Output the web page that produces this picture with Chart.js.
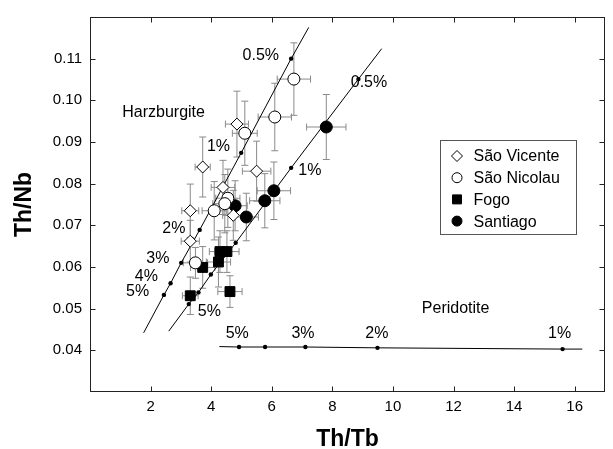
<!DOCTYPE html>
<html><head><meta charset="utf-8">
<script src="https://cdn.jsdelivr.net/npm/chart.js@4/dist/chart.umd.min.js"></script>
<style>html,body{margin:0;padding:0;background:#fff;}</style>
</head><body>
<canvas id="c" width="613" height="449"></canvas>
<script>
// ---- data ----
const xTicks = [2, 4, 6, 8, 10, 12, 14, 16];
const yTicks = [0.04, 0.05, 0.06, 0.07, 0.08, 0.09, 0.10, 0.11];

// São Vicente (open diamonds)
const svX    = [4.85, 3.72, 5.50, 4.39, 3.31, 4.73, 3.31];
const svY    = [0.0943, 0.0840, 0.0830, 0.0791, 0.0735, 0.0724, 0.0662];
const svXErr = [0.38, 0.25, 0.47, 0.39, 0.28, 0.35, 0.30];
const svYErr = [0.0079, 0.0072, 0.0072, 0.0065, 0.0064, 0.0060, 0.0050];

// São Nicolau (open circles)
const snX    = [6.73, 6.10, 5.11, 4.55, 4.45, 4.10, 3.48];
const snY    = [0.1051, 0.0960, 0.0921, 0.0765, 0.0752, 0.0735, 0.0610];
const snXErr = [0.55, 0.55, 0.41, 0.40, 0.40, 0.40, 0.40];
const snYErr = [0.0087, 0.0081, 0.0077, 0.0070, 0.0070, 0.0070, 0.0037];

// Fogo (filled squares)
const fgX    = [4.29, 4.52, 4.24, 3.72, 3.31, 4.62];
const fgY    = [0.0637, 0.0637, 0.0612, 0.0599, 0.0531, 0.0541];
const fgXErr = [0.35, 0.40, 0.40, 0.40, 0.26, 0.40];
const fgYErr = [0.0050, 0.0050, 0.0060, 0.0050, 0.0045, 0.0038];

// Santiago (filled circles)
const stX    = [7.80, 6.07, 5.77, 4.79, 5.16];
const stY    = [0.0936, 0.0783, 0.0759, 0.0747, 0.0720];
const stXErr = [0.65, 0.55, 0.50, 0.40, 0.40];
const stYErr = [0.0078, 0.0069, 0.0065, 0.0060, 0.0057];

// melting model curves (end, 5%,4%,3%,2%,1%,0.5%, end)
const harzX = [1.77, 2.44, 2.66, 3.01, 3.62, 4.99, 6.64, 7.22];
const harzY = [0.0442, 0.0533, 0.0561, 0.0610, 0.0689, 0.0874, 0.1100, 0.1175];
const peridX = [2.60, 3.26, 3.58, 3.99, 4.81, 6.64, 8.86, 9.63];
const peridY = [0.0446, 0.0511, 0.0539, 0.0582, 0.0658, 0.0838, 0.1051, 0.1124];
// Peridotite (horizontal) curve (end, 5%,4%,3%,2%,1%, end)
const flatX = [4.27, 4.92, 5.78, 7.11, 9.49, 15.6, 16.25];
const flatY = [0.0409, 0.0408, 0.0408, 0.0408, 0.0406, 0.0403, 0.0403];

// text labels
const noteText = ['0.5%', '1%', '2%', '3%', '4%', '5%', '0.5%', '1%', '5%', '5%', '3%', '2%', '1%', 'Harzburgite', 'Peridotite'];
const noteX = [5.64, 4.24, 2.77, 2.24, 1.86, 1.57, 9.21, 7.26, 3.94, 4.86, 7.03, 9.47, 15.5, 2.43, 12.07];
const noteY = [0.1108, 0.0888, 0.0691, 0.0620, 0.0576, 0.0540, 0.1043, 0.0831, 0.0494, 0.0441, 0.0441, 0.0441, 0.0441, 0.0970, 0.0500];

const seriesNames = ['São Vicente', 'São Nicolau', 'Fogo', 'Santiago'];

// ---- chart ----
const FONT = '"Liberation Sans", Arial, Helvetica, sans-serif';
const pts = (xs, ys) => xs.map((x, i) => ({x, y: ys[i]}));
const errSets = [
  [svX, svY, svXErr, svYErr], [snX, snY, snXErr, snYErr],
  [fgX, fgY, fgXErr, fgYErr], [stX, stY, stXErr, stYErr]
];

function markerDs(label, xs, ys, style, radius, fill) {
  return {label, data: pts(xs, ys), showLine: false, pointStyle: style,
    pointRadius: radius, pointHoverRadius: radius, pointBackgroundColor: fill,
    pointBorderColor: '#000', pointBorderWidth: 1, order: 0};
}
function curveDs(xs, ys) {
  const last = xs.length - 1;
  return {label: '', data: pts(xs, ys), showLine: true, borderColor: '#000', borderWidth: 1,
    pointRadius: c => (c.dataIndex === 0 || c.dataIndex === last) ? 0 : 2.2,
    pointHoverRadius: 0, pointBackgroundColor: '#000', pointBorderWidth: 0, order: 10};
}

const errorBars = {
  id: 'errorBars',
  beforeDatasetsDraw(chart) {
    const {ctx, scales: {x, y}} = chart;
    ctx.save();
    ctx.strokeStyle = '#8a8a8a';
    ctx.lineWidth = 1;
    const cap = 3.5;
    errSets.forEach(([xs, ys, xe, ye]) => {
      xs.forEach((xv, i) => {
        const px = x.getPixelForValue(xv), py = y.getPixelForValue(ys[i]);
        const x0 = x.getPixelForValue(xv - xe[i]), x1 = x.getPixelForValue(xv + xe[i]);
        const y0 = y.getPixelForValue(ys[i] - ye[i]), y1 = y.getPixelForValue(ys[i] + ye[i]);
        ctx.beginPath();
        ctx.moveTo(x0, py); ctx.lineTo(x1, py);
        ctx.moveTo(x0, py - cap); ctx.lineTo(x0, py + cap);
        ctx.moveTo(x1, py - cap); ctx.lineTo(x1, py + cap);
        ctx.moveTo(px, y0); ctx.lineTo(px, y1);
        ctx.moveTo(px - cap, y0); ctx.lineTo(px + cap, y0);
        ctx.moveTo(px - cap, y1); ctx.lineTo(px + cap, y1);
        ctx.stroke();
      });
    });
    ctx.restore();
  }
};

function drawMarker(ctx, style, cx, cy, r, fill) {
  ctx.beginPath();
  if (style === 'circle') ctx.arc(cx, cy, r, 0, Math.PI * 2);
  else if (style === 'rectRot') { ctx.moveTo(cx, cy - r); ctx.lineTo(cx + r, cy); ctx.lineTo(cx, cy + r); ctx.lineTo(cx - r, cy); ctx.closePath(); }
  else { ctx.rect(cx - r, cy - r, 2 * r, 2 * r); }
  ctx.fillStyle = fill; ctx.fill();
  ctx.strokeStyle = '#000'; ctx.lineWidth = 1; ctx.stroke();
}

const decor = {
  id: 'decor',
  afterDatasetsDraw(chart) {
    const {ctx, chartArea: a, scales: {x, y}} = chart;
    ctx.save();
    // frame
    ctx.strokeStyle = '#222'; ctx.lineWidth = 1;
    const L = Math.round(a.left) + 0.5, R = Math.round(a.right) - 0.5;
    const T = Math.round(a.top) + 0.5, B = Math.round(a.bottom) - 0.5;
    ctx.strokeRect(L, T, R - L, B - T);
    const tl = 5;
    ctx.beginPath();
    xTicks.forEach(v => {
      const p = Math.round(x.getPixelForValue(v)) + 0.5;
      ctx.moveTo(p, B); ctx.lineTo(p, B - tl);
      ctx.moveTo(p, T); ctx.lineTo(p, T + tl);
    });
    yTicks.forEach(v => {
      const p = Math.round(y.getPixelForValue(v)) + 0.5;
      ctx.moveTo(L, p); ctx.lineTo(L + tl, p);
      ctx.moveTo(R, p); ctx.lineTo(R - tl, p);
    });
    ctx.stroke();
    // labels
    ctx.fillStyle = '#000';
    ctx.font = '16px ' + FONT;
    ctx.textAlign = 'center'; ctx.textBaseline = 'middle';
    noteText.forEach((t, i) => ctx.fillText(t, x.getPixelForValue(noteX[i]), y.getPixelForValue(noteY[i])));
    // legend
    const bx = 440.5, by = 140.5, bw = 136, bh = 94;
    ctx.strokeStyle = '#555';
    ctx.strokeRect(bx, by, bw, bh);
    const styles = [['rectRot', 5.5, '#fff'], ['circle', 5, '#fff'], ['rect', 4.5, '#000'], ['circle', 5, '#000']];
    ctx.textAlign = 'left';
    seriesNames.forEach((n, i) => {
      const cy = by + 15.5 + i * 21.7;
      drawMarker(ctx, styles[i][0], bx + 16.5, cy, styles[i][1], styles[i][2]);
      ctx.fillStyle = '#000';
      ctx.fillText(n, bx + 33, cy + 1);
    });
    ctx.restore();
  }
};

new Chart(document.getElementById('c'), {
  type: 'scatter',
  data: {
    datasets: [
      markerDs(seriesNames[0], svX, svY, 'rectRot', 6, '#fff'),
      markerDs(seriesNames[1], snX, snY, 'circle', 6, '#fff'),
      markerDs(seriesNames[2], fgX, fgY, 'rect', 7, '#000'),
      markerDs(seriesNames[3], stX, stY, 'circle', 6, '#000'),
      curveDs(harzX, harzY),
      curveDs(peridX, peridY),
      curveDs(flatX, flatY)
    ]
  },
  options: {
    responsive: false,
    animation: false,
    events: [],
    layout: {padding: {top: 11, right: 5, left: 0, bottom: 0}},
    plugins: {legend: {display: false}, tooltip: {enabled: false}},
    scales: {
      x: {
        type: 'linear', min: 0, max: 17,
        grid: {display: false, drawTicks: false}, border: {display: false},
        ticks: {font: {size: 15, family: FONT}, color: '#000', padding: 6},
        afterBuildTicks: s => { s.ticks = xTicks.map(v => ({value: v})); },
        afterFit: s => { s.height = 57; },
        title: {display: true, text: 'Th/Tb', color: '#000',
          font: {size: 23, weight: 'bold', family: FONT, lineHeight: 0.8}, padding: {top: 0, bottom: 0}}
      },
      y: {
        type: 'linear', min: 0.03, max: 0.12,
        grid: {display: false, drawTicks: false}, border: {display: false},
        ticks: {font: {size: 15, family: FONT}, color: '#000', padding: 8, callback: v => Number(v).toFixed(2)},
        afterBuildTicks: s => { s.ticks = yTicks.map(v => ({value: v})); },
        afterFit: s => { s.width = 90; },
        title: {display: true, text: 'Th/Nb', color: '#000',
          font: {size: 23, weight: 'bold', family: FONT, lineHeight: 0.8}, padding: {top: 15, bottom: 0}}
      }
    }
  },
  plugins: [errorBars, decor]
});
</script>
</body></html>
